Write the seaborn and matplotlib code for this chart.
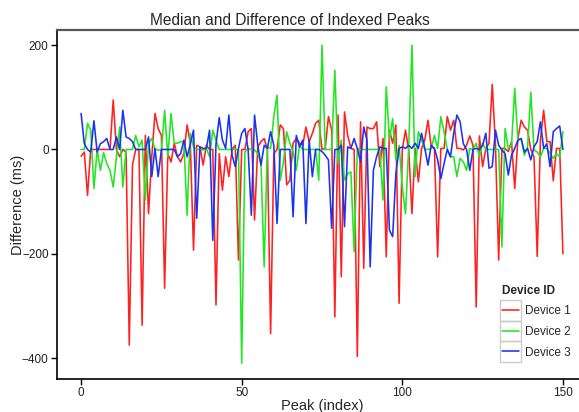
import numpy as np
import pandas as pd
import seaborn as sns
import matplotlib.pyplot as plt
from matplotlib.patches import Rectangle

# peak index 0..150, difference from the median in ms
peak = list(range(151))

device_1 = [
    -13, -5, -88, 0, 0, 0, 0, 0, 0, 0,
    95, 0, -14, 0, -5, -375, -30, 0, 0, -337,
    27, -123, -14, 69, 40, 27, -266, -8, -24, 12,
    -14, -24, -8, 47, 12, -193, 8, 5, -30, 8,
    0, 0, -298, -8, -78, -14, -52, 0, 8, -212,
    0, 0, 34, 40, -135, 5, 15, 21, 0, -353,
    -8, 0, 47, 40, -68, -59, 12, 21, 12, 8,
    43, 15, 31, 50, 56, 0, 2, 63, 37, -321,
    66, -244, 72, 27, 2, 0, -397, 53, -228, 43,
    40, 40, 53, -33, 21, -206, 37, 12, 47, -295,
    0, 37, -1, -123, 2, -62, 2, 18, 56, 5,
    2, -206, 2, 2, 63, 37, 56, 2, 2, -1,
    8, 26, 8, -302, 26, -33, 2, 12, 125, 8,
    -212, 2, 2, -4, 15, -75, 21, 56, 43, 37,
    0, -14, -205, 18, 75, 15, 15, -60, 2, 2,
    -200,
]

device_2 = [
    0, 0, 50, 37, -75, 0, -40, -6, -27, -40,
    -72, -14, 43, -72, 0, 0, 0, 27, 5, 18,
    -97, 12, 21, 0, -1, -1, 75, -14, 69, 12,
    12, 15, 15, -126, 31, 5, 0, 0, -1, 2,
    -14, 37, 18, 0, 0, 0, 0, 0, 0, 0,
    -410, -4, 2, 0, -1, -8, -27, -225, 5, 2,
    63, 104, -59, -24, 34, 12, -4, -40, 8, 0,
    0, 0, 0, 0, -59, 200, 0, 0, 0, 152,
    -27, 18, -59, -46, -43, -196, 2, 0, 0, 0,
    0, 0, 0, 0, -97, 120, 18, 59, -20, 8,
    -72, -123, 5, 200, -52, 34, 18, 0, 0, 2,
    27, 2, 63, 34, 0, -14, -14, -52, -17, -24,
    -40, 2, 0, 12, -14, 12, 0, 0, 0, 0,
    0, -187, 40, 2, 8, 117, 18, 21, -11, 5,
    110, -1, -5, -14, 2, 2, -8, -17, -8, -14,
    34,
]

device_3 = [
    69, 11, 0, -5, 55, -5, 11, 15, 21, 0,
    0, 24, 0, 75, 24, 21, 15, 0, 0, 0,
    0, 24, -52, 2, -52, 0, 0, 0, 0, 0,
    -14, -8, 18, -14, 10, 37, -132, 5, 2, 2,
    37, -174, 10, 61, 18, 2, 66, -11, -33, 2,
    31, 40, 0, -126, 66, 8, -30, 8, 2, 34,
    8, -142, 0, 0, 0, 0, -129, 27, 5, 18,
    -142, 18, -52, 0, 0, -4, -11, -20, -151, 0,
    0, 8, -148, 5, 2, 21, 2, -24, 43, 18,
    -225, -40, -14, 5, 2, 2, -155, -167, -46, 2,
    5, 2, 8, 2, 12, 2, 31, 2, -30, 8,
    2, -20, -56, -27, 0, -14, 31, 66, 53, 11,
    0, -40, 0, 2, 0, 8, 31, -36, -33, 37,
    8, -1, -8, -49, -11, 2, 18, 21, -5, 2,
    -20, 5, 15, 53, 2, 11, -33, 34, 40, 45,
    0,
]

devices = ["Device 1", "Device 2", "Device 3"]
colors = ["#ff2020", "#22e622", "#1a33f0"]

df = pd.concat([
    pd.DataFrame({"Peak": peak, "Difference": vals, "Device ID": name})
    for name, vals in zip(devices, [device_1, device_2, device_3])
])

sns.set_theme(style="white")
plt.rcParams["font.family"] = ["Liberation Sans", "DejaVu Sans"]

W, H = 579, 412
fig = plt.figure(figsize=(W / 100, H / 100), dpi=100)
ax = fig.add_axes([57 / W, 1 - 379 / H, (587 - 57) / W, (379 - 30) / H])

sns.lineplot(
    data=df, x="Peak", y="Difference", hue="Device ID",
    hue_order=devices, palette=dict(zip(devices, colors)),
    estimator=None, linewidth=1.15, ax=ax,
)

ax.set_xlim(-7.5, 157.5)
ax.set_ylim(-440, 229)
ax.set_xticks([0, 50, 100, 150])
ax.set_yticks([200, 0, -200, -400])
ax.tick_params(axis="both", length=4, width=1, color="black", labelsize=8.5,
               labelcolor="#222222", pad=2, direction="out", bottom=True, left=True)

for side in ["left", "bottom"]:
    ax.spines[side].set_color("black")
    ax.spines[side].set_linewidth(1.2)
ax.spines["top"].set_color("#555555")
ax.spines["top"].set_linewidth(1.6)
ax.spines["right"].set_visible(False)

ax.set_xlabel("Peak (index)", fontsize=10.5, labelpad=0)
ax.set_ylabel("Difference (ms)", fontsize=10.5)
ax.yaxis.set_label_coords((25 - 57) / 530, 0.5)
fig.text(290 / W, 1 - 25 / H, "Median and Difference of Indexed Peaks",
         ha="center", va="baseline", fontsize=11.2)

# legend, then grey key boxes around each key line
handles, labels = ax.get_legend_handles_labels()
leg = ax.legend(
    handles, labels, title="Device ID", loc="upper left",
    bbox_to_anchor=(502 / W, 1 - 285 / H), bbox_transform=fig.transFigure,
    frameon=False, fontsize=8.5, borderpad=0, borderaxespad=0,
    handlelength=1.45, handletextpad=0.5, labelspacing=0.72,
    alignment="left",
    title_fontproperties={"weight": "bold", "size": 8.5},
)
fig.canvas.draw()
renderer = fig.canvas.get_renderer()
inv = fig.transFigure.inverted()
for h in leg.legend_handles:
    bb = h.get_window_extent(renderer)
    cx, cy = (bb.x0 + bb.x1) / 2, (bb.y0 + bb.y1) / 2
    (fx, fy) = inv.transform((cx - 10.5, cy - 10.25))
    fig.patches.append(Rectangle(
        (fx, fy), 21 / W, 20.5 / H,
        transform=fig.transFigure, facecolor="none", edgecolor="#cccccc",
        linewidth=1.0, zorder=5))

fig.savefig("out.png", dpi=100)
